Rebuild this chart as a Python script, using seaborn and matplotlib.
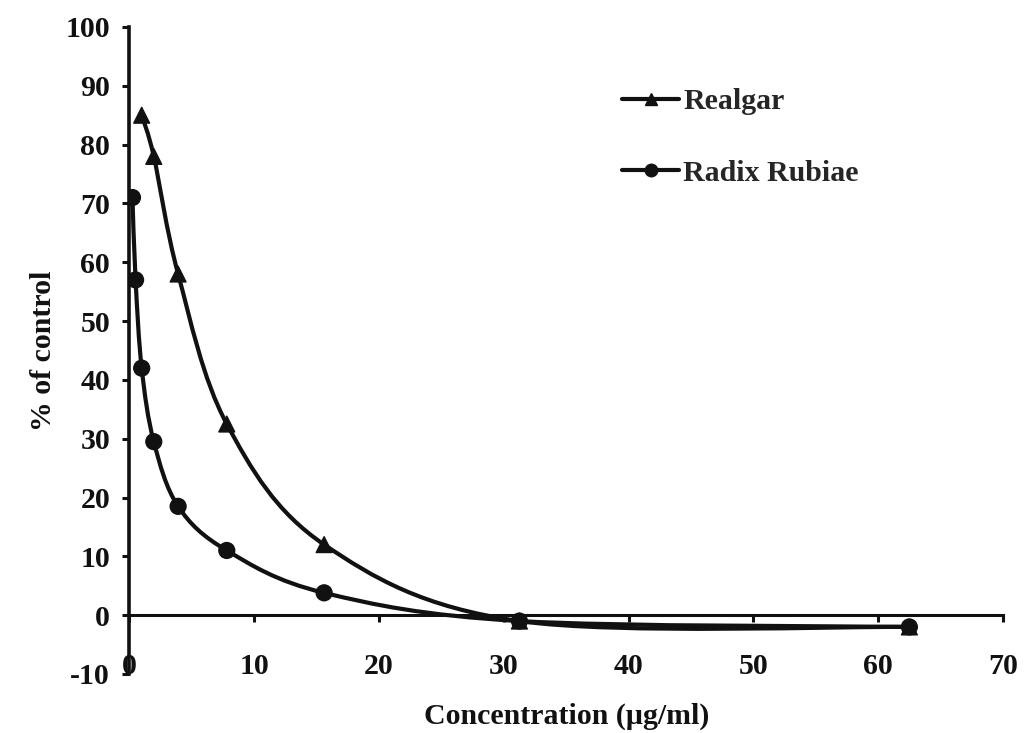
import numpy as np
import pandas as pd
import matplotlib
matplotlib.use("Agg")
import matplotlib.pyplot as plt
from matplotlib.path import Path
from matplotlib.patches import PathPatch
from matplotlib.lines import Line2D
import seaborn as sns

# Cell viability (% of control) versus concentration
realgar_conc = [0.98, 1.95, 3.9, 7.8, 15.6, 31.25, 62.5]
realgar_pct = [85.0, 78.0, 58.0, 32.5, 12.0, -1.0, -2.0]

rubiae_conc = [0.24, 0.49, 0.98, 1.95, 3.9, 7.8, 15.6, 31.25, 62.5]
rubiae_pct = [71.0, 57.0, 42.0, 29.5, 18.5, 11.0, 3.8, -1.0, -2.0]

series_names = ["Realgar", "Radix Rubiae"]
x_ticks = [0, 10, 20, 30, 40, 50, 60, 70]
y_ticks = [-10, 0, 10, 20, 30, 40, 50, 60, 70, 80, 90, 100]

df = pd.concat([
    pd.DataFrame({"conc": realgar_conc, "pct": realgar_pct, "series": series_names[0]}),
    pd.DataFrame({"conc": rubiae_conc, "pct": rubiae_pct, "series": series_names[1]}),
], ignore_index=True)

sns.set_theme(style="white")
plt.rcParams["font.family"] = ["Liberation Serif", "DejaVu Serif"]
plt.rcParams["font.weight"] = "bold"

INK = "#111111"
FS = 21.5

fig = plt.figure(figsize=(10.25, 7.33), dpi=100)
ax = fig.add_axes([0.1263, 0.0805, 0.8522, 0.8827])


def smooth_path(xs, ys):
    """Catmull-Rom style cubic Bezier through the points (spreadsheet 'smoothed line')."""
    pts = np.column_stack([xs, ys]).astype(float)
    n = len(pts)
    verts = [pts[0]]
    codes = [Path.MOVETO]
    for i in range(n - 1):
        p0 = pts[i - 1] if i > 0 else pts[i]
        p1 = pts[i]
        p2 = pts[i + 1]
        p3 = pts[i + 2] if i + 2 < n else pts[i + 1]
        c1 = p1 + (p2 - p0) / 6.0
        c2 = p2 - (p3 - p1) / 6.0
        verts += [c1, c2, p2]
        codes += [Path.CURVE4] * 3
    return Path(verts, codes)


for name in series_names:
    sub = df[df["series"] == name]
    ax.add_patch(PathPatch(smooth_path(sub["conc"], sub["pct"]), facecolor="none",
                           edgecolor=INK, lw=3.0, capstyle="round", joinstyle="round",
                           zorder=3))

sns.scatterplot(data=df, x="conc", y="pct", style="series", hue="series",
                markers={"Realgar": "^", "Radix Rubiae": "o"},
                palette={"Realgar": INK, "Radix Rubiae": INK},
                s=130, edgecolor=INK, linewidth=1.0, legend=False, zorder=4, ax=ax)

ax.set_xlim(0, 70)
ax.set_ylim(-10, 100)

# Horizontal axis crosses at zero; labels stay at the bottom of the plot
for s in ["top", "right"]:
    ax.spines[s].set_visible(False)
ax.spines["bottom"].set_position(("data", 0))
ax.spines["bottom"].set_color(INK)
ax.spines["bottom"].set_linewidth(2.2)
ax.spines["left"].set_color(INK)
ax.spines["left"].set_linewidth(2.6)

ax.set_xticks(x_ticks)
ax.set_yticks(y_ticks)
ax.set_xticklabels([str(v) for v in x_ticks])
ax.set_yticklabels([str(v) for v in y_ticks])
ax.tick_params(axis="x", direction="out", length=5, width=2.2, color=INK, pad=22,
               bottom=True, labelsize=FS, labelcolor=INK)
ax.tick_params(axis="y", direction="out", length=5, width=2.2, color=INK, pad=9,
               left=True, labelsize=FS, labelcolor=INK)
for lab in ax.get_xticklabels() + ax.get_yticklabels():
    lab.set_fontweight("bold")

ax.set_xlabel("Concentration (µg/ml)", fontsize=FS, fontweight="bold", color=INK)
ax.set_ylabel("% of control", fontsize=FS, fontweight="bold", color=INK, labelpad=6)
ax.xaxis.set_label_coords(0.5, -0.045)

handles = [
    Line2D([0], [0], color=INK, lw=3, marker="^", markersize=9),
    Line2D([0], [0], color=INK, lw=3, marker="o", markersize=9),
]
fig.legend(handles, series_names, loc="upper left", bbox_to_anchor=(0.607, 0.88),
           frameon=False, prop={"size": FS, "weight": "bold"}, handlelength=1.9,
           handletextpad=0.15, labelspacing=1.5, borderpad=0, borderaxespad=0)

fig.savefig("out.png", dpi=100, facecolor="white")
